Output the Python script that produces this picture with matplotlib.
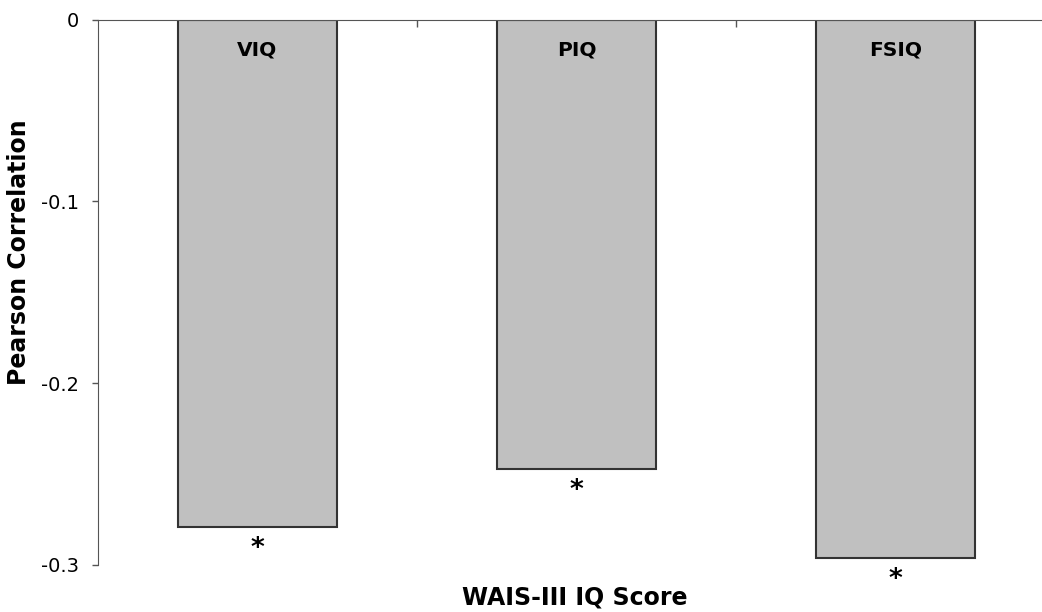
import numpy as np
import matplotlib.pyplot as plt

# correlation of score with WAIS-III IQ
labels = ['VIQ', 'PIQ', 'FSIQ']
corr = [-0.279, -0.247, -0.296]
sig = ['*', '*', '*']

plt.rcParams['font.family'] = 'DejaVu Sans'
fig = plt.figure(figsize=(10.42, 6.12), dpi=100)
ax = fig.add_axes([98/1042, 1 - 565/612, 957/1042, (565 - 19.5)/612])

x = np.arange(len(labels))
bars = ax.bar(x, corr, width=0.5, color='#c0c0c0', edgecolor='#333333', linewidth=1.5)

for xi, v, lab, s in zip(x, corr, labels, sig):
    ax.annotate(lab, (xi, 0), xytext=(0, -22), textcoords='offset points',
                ha='center', va='center', fontsize=14.5, fontweight='bold')
    ax.annotate(s, (xi, v), xytext=(0, -16), textcoords='offset points',
                ha='center', va='center', fontsize=19, fontweight='bold')

ax.set_xlim(-0.5, 2.5)
ax.set_ylim(-0.3, 0)
ax.set_yticks([0, -0.1, -0.2, -0.3])
ax.set_yticklabels(['0', '-0.1', '-0.2', '-0.3'], fontsize=14)
ax.tick_params(axis='y', direction='out', length=4.5, width=1, color='#555555', pad=9)

ax.xaxis.tick_top()
ax.set_xticks([0.5, 1.5])
ax.set_xticklabels([])
ax.tick_params(axis='x', direction='in', length=5, width=1, color='#555555')

ax.spines['bottom'].set_visible(False)
ax.spines['right'].set_visible(False)
ax.spines['top'].set_color('#555555')
ax.spines['left'].set_color('#555555')

fig.text(19/1042, 1 - 252/612, 'Pearson Correlation', ha='center', va='center',
         rotation=90, fontsize=17, fontweight='bold')
fig.text(575/1042, 1 - 597/612, 'WAIS-III IQ Score', ha='center', va='center',
         fontsize=17, fontweight='bold')

plt.savefig('out.png', dpi=100)
